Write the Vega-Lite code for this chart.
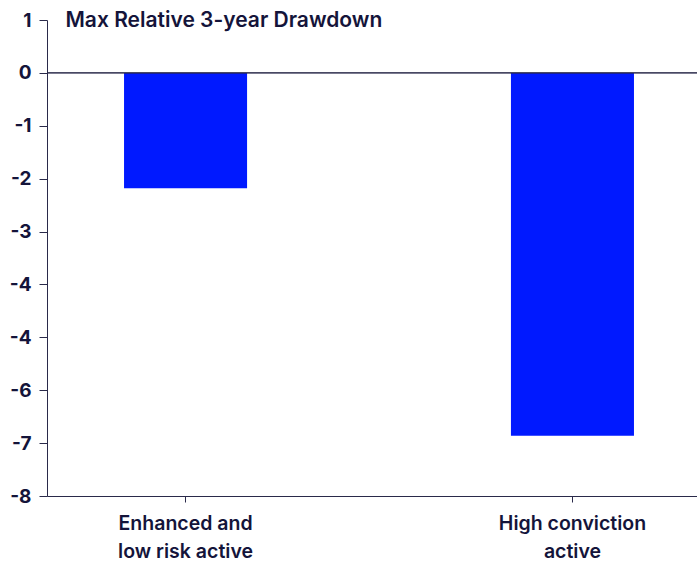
{
  "$schema": "https://vega.github.io/schema/vega-lite/v6.json",
  "width": 650,
  "height": 476,
  "autosize": {"type": "none"},
  "padding": {"left": 47, "top": 20, "right": 0, "bottom": 69},
  "background": "white",
  "config": {
    "view": {"stroke": null},
    "font": "Inter"
  },
  "data": {
    "values": [
      {"category": "Enhanced and low risk active", "value": -2.18},
      {"category": "High conviction active", "value": -6.86}
    ]
  },
  "layer": [
    {
      "mark": {"type": "bar", "color": "#0019ff"},
      "encoding": {
        "x": {
          "field": "category",
          "type": "nominal",
          "sort": null,
          "scale": {"paddingInner": 0.682, "paddingOuter": 0.181, "align": 0.55},
          "axis": {
            "title": null,
            "labelAngle": 0,
            "labelExpr": "datum.value == 'Enhanced and low risk active' ? ['Enhanced and', 'low risk active'] : ['High conviction', 'active']",
            "labelFontSize": 19.5,
            "labelFontWeight": 600,
            "labelColor": "#14143a",
            "labelLineHeight": 28,
            "labelPadding": 12,
            "domainColor": "#2a2a4a",
            "tickColor": "#2a2a4a",
            "tickSize": 6,
            "grid": false
          }
        },
        "y": {
          "field": "value",
          "type": "quantitative",
          "scale": {"domain": [-8, 1], "nice": false},
          "axis": {
            "title": "Max Relative 3-year Drawdown",
            "titleAngle": 0,
            "titleX": 18,
            "titleY": 0,
            "titleAlign": "left",
            "titleBaseline": "middle",
            "titleFontSize": 21,
            "titleFontWeight": 600,
            "titleColor": "#14143a",
            "values": [1, 0, -1, -2, -3, -4, -5, -6, -7, -8],
            "labelExpr": "datum.value == -5 ? '-4' : toString(datum.value)",
            "labelFontSize": 19,
            "labelFontWeight": 700,
            "labelColor": "#14143a",
            "labelPadding": 8,
            "tickSize": 8,
            "tickColor": "#2a2a4a",
            "domainColor": "#2a2a4a",
            "grid": false
          }
        }
      }
    },
    {
      "mark": {"type": "rule", "color": "#2a2a4a", "strokeWidth": 1},
      "encoding": {"y": {"datum": 0}}
    }
  ]
}
